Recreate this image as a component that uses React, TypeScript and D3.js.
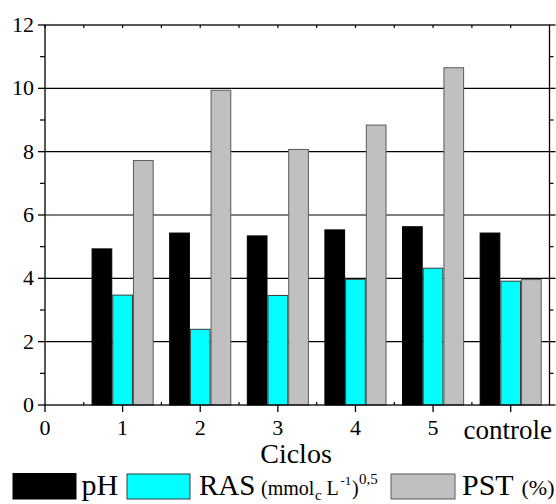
import React from "react";
import * as d3 from "d3";

const categories = ["1", "2", "3", "4", "5", "controle"];
const categoryPos = [1, 2, 3, 4, 5, 6];
const pH = [4.93, 5.43, 5.34, 5.53, 5.63, 5.43];
const RAS = [3.47, 2.39, 3.46, 3.97, 4.32, 3.91];
const PST = [7.72, 9.94, 8.07, 8.84, 10.65, 3.96];
const xTickValues = [0, 1, 2, 3, 4, 5, 6];
const xTickLabels = ["0", "1", "2", "3", "4", "5", "controle"];
const yTickValues = [0, 2, 4, 6, 8, 10, 12];

const W = 556;
const H = 504;
const FONT = "'Liberation Serif', 'Times New Roman', serif";

export default function App() {
  const x = d3.scaleLinear().domain([0, 6.5]).range([45, 549.5]);
  const y = d3.scaleLinear().domain([0, 12]).range([405, 25]);
  const barW = x(0.8 / 3) - x(0);
  const series = [
    { values: pH, fill: "#000000", stroke: "#000000", offset: -1 },
    { values: RAS, fill: "#00FFFF", stroke: "#3a3a3a", offset: 0 },
    { values: PST, fill: "#C0C0C0", stroke: "#5a5a5a", offset: 1 },
  ];
  const yMinor = d3.range(1, 12, 2);
  const xMinor = d3.range(0.5, 6.5, 1);
  const x0 = x.range()[0];
  const x1 = x.range()[1];
  const yb = y(0);
  const yt = y(12);

  return (
    <svg
      width={W}
      height={H}
      style={{ position: "absolute", left: 0, top: 0, background: "#fff" }}
      fontFamily={FONT}
    >
      <rect x={0} y={0} width={W} height={H} fill="#fff" />
      {/* grid lines */}
      {yTickValues.slice(1, -1).map((v) => (
        <line key={"g" + v} x1={x0} x2={x1} y1={y(v)} y2={y(v)} stroke="#000" strokeWidth={1.1} />
      ))}
      {/* bars */}
      {series.map((s, si) =>
        s.values.map((v, i) => {
          const cx = x(categoryPos[i]);
          const left = cx - barW / 2 + s.offset * barW;
          return (
            <rect
              key={si + "-" + i}
              x={left + 0.5}
              y={y(v)}
              width={barW - 1}
              height={yb - y(v)}
              fill={s.fill}
              stroke={s.stroke}
              strokeWidth={1}
            />
          );
        })
      )}
      {/* frame */}
      <rect x={x0} y={yt} width={x1 - x0} height={yb - yt} fill="none" stroke="#000" strokeWidth={1.3} />
      {/* y ticks */}
      {yTickValues.map((v) => (
        <g key={"yt" + v}>
          <line x1={x0 - 7} x2={x0} y1={y(v)} y2={y(v)} stroke="#000" strokeWidth={1.3} />
          <line x1={x1} x2={x1 + 6} y1={y(v)} y2={y(v)} stroke="#000" strokeWidth={1.3} />
          <text x={x0 - 11} y={y(v) + 7} textAnchor="end" fontSize={22} fill="#000">
            {v}
          </text>
        </g>
      ))}
      {yMinor.map((v) => (
        <g key={"ym" + v}>
          <line x1={x0 - 5} x2={x0} y1={y(v)} y2={y(v)} stroke="#000" strokeWidth={1.2} />
          <line x1={x1} x2={x1 + 4} y1={y(v)} y2={y(v)} stroke="#000" strokeWidth={1.2} />
        </g>
      ))}
      {/* x ticks */}
      {xTickValues.map((v, i) => (
        <g key={"xt" + v}>
          <line x1={x(v)} x2={x(v)} y1={yb} y2={yb + 7} stroke="#000" strokeWidth={1.3} />
          <line x1={x(v)} x2={x(v)} y1={yt} y2={yt + 3} stroke="#000" strokeWidth={1.2} />
          <text
            x={xTickLabels[i] === "controle" ? x(v) - 3 : x(v)}
            y={xTickLabels[i] === "controle" ? 439 : 435}
            textAnchor="middle"
            fontSize={xTickLabels[i] === "controle" ? 27 : 22}
            fill="#000"
          >
            {xTickLabels[i]}
          </text>
        </g>
      ))}
      {xMinor.map((v) => (
        <g key={"xm" + v}>
          <line x1={x(v)} x2={x(v)} y1={yb} y2={yb - 3} stroke="#000" strokeWidth={1.2} />
          <line x1={x(v)} x2={x(v)} y1={yt} y2={yt + 3} stroke="#000" strokeWidth={1.2} />
        </g>
      ))}
      {/* axis title */}
      <text x={296} y={463} textAnchor="middle" fontSize={28} fill="#000">
        Ciclos
      </text>
      {/* legend */}
      <rect x={13} y={473.5} width={63} height={25.5} fill="#000" stroke="#000" />
      <text x={81.5} y={495} fontSize={30} fill="#000">pH</text>
      <rect x={127} y={474} width={63} height={25} fill="#00FFFF" stroke="#3a3a3a" />
      <text x={199} y={494.5} fontSize={29} fill="#000">RAS</text>
      <text x={261} y={494.5} fontSize={20} fill="#000">(mmol</text>
      <text x={315} y={500} fontSize={15} fill="#000">c</text>
      <text x={326.5} y={494.5} fontSize={20} fill="#000">L</text>
      <text x={340.5} y={485} fontSize={13} fill="#000">-1</text>
      <text x={352} y={494.5} fontSize={20} fill="#000">)</text>
      <text x={359} y={484} fontSize={15} fill="#000">0,5</text>
      <rect x={391} y={474} width={64} height={25} fill="#C0C0C0" stroke="#5a5a5a" />
      <text x={462} y={495} fontSize={30} fill="#000">PST</text>
      <text x={521.5} y={495} fontSize={22} fill="#000">(%)</text>
    </svg>
  );
}
